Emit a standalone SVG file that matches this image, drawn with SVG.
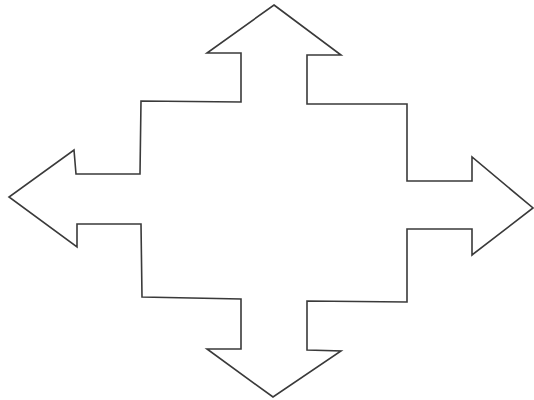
<svg xmlns="http://www.w3.org/2000/svg" width="534" height="400" viewBox="0 0 534 400">
<style>
.outline{fill:#ffffff;stroke:#3a3a3a;stroke-width:1.6;stroke-linejoin:miter}
</style>
<rect x="0" y="0" width="534" height="400" fill="#ffffff"/>
<g id="cross-arrows">
<path class="outline" d="M274,5 L341,55 L307,55 L307,104 L407,104 L407,181 L472,181 L472,157 L533,208 L472,255 L472,229 L407,229 L407,302 L307,301 L307,350 L341,351 L273,397 L207,349 L241,349 L241,299 L142,297 L141,224 L77,224 L77,247 L9,197 L74,150 L76,174 L140,174 L141,101 L241,102 L241,53 L207,53 Z"/>
</g>
</svg>
